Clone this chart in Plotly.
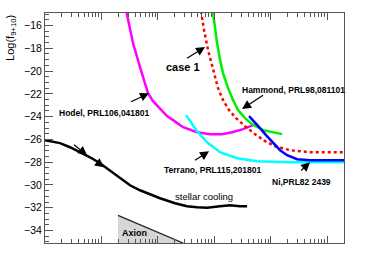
import plotly.graph_objects as go

# x values are given as log10(x); the x axis itself is logarithmic (no labels in the original)
hodel_xlog = [0.418, 0.560, 0.684, 0.826, 0.915, 1.039, 1.163, 1.270, 1.447, 1.695, 1.926, 2.138, 2.316, 2.511, 2.688]
hodel_y = [-14.20, -17.54, -19.65, -21.94, -22.64, -23.26, -23.96, -24.31, -24.93, -25.37, -25.54, -25.54, -25.37, -25.10, -24.75]

hammond_xlog = [1.961, 1.996, 2.050, 2.103, 2.156, 2.245, 2.333, 2.422, 2.546, 2.670, 2.865, 3.202]
hammond_y = [-14.20, -15.52, -17.54, -19.03, -20.18, -21.50, -22.55, -23.43, -24.13, -24.66, -25.19, -25.54]

case1_xlog = [1.748, 1.819, 1.890, 1.979, 2.067, 2.156, 2.262, 2.387, 2.546, 2.723, 2.901, 3.078, 3.344, 3.699, 4.301]
case1_y = [-14.20, -16.40, -18.15, -19.91, -21.50, -22.55, -23.43, -24.13, -24.84, -25.54, -26.16, -26.60, -26.95, -27.13, -27.13]

terrano_xlog = [1.500, 1.589, 1.695, 1.872, 2.103, 2.404, 2.759, 3.344, 4.301]
terrano_y = [-23.87, -24.57, -25.28, -26.25, -27.13, -27.65, -27.92, -28.01, -28.01]

ni_xlog = [2.617, 2.723, 2.812, 2.918, 3.043, 3.167, 3.291, 3.468, 3.699, 4.301]
ni_y = [-23.96, -24.49, -25.01, -25.63, -26.33, -26.95, -27.39, -27.74, -27.83, -27.83]

stellar_xlog = [-1.0, -0.734, -0.557, -0.379, -0.202, -0.025, 0.152, 0.330, 0.507, 0.684, 0.862, 1.039,
                1.305, 1.518, 1.695, 1.872, 2.103, 2.280, 2.457, 2.582]
stellar_y = [-26.07, -26.33, -26.69, -27.13, -27.57, -28.09, -28.71, -29.41, -30.03, -30.47, -30.82, -31.17,
             -31.61, -31.87, -31.96, -32.01, -31.87, -31.79, -31.87, -31.87]

axion_xlog = [0.294, 1.447, 0.294, 0.294]
axion_y = [-32.67, -35.1, -35.1, -32.67]

y_range = [-35.1, -14.9]
x_range_log = [-1.0, 4.3]

FONT = "Liberation Sans"


def xs(v):
    return [10 ** a for a in v]


fig = go.Figure()

# Axion region
fig.add_trace(go.Scatter(x=xs(axion_xlog), y=axion_y, mode="lines", fill="toself",
                         fillcolor="#d6d6d6", line=dict(color="rgba(0,0,0,0)", width=0),
                         hoverinfo="skip", showlegend=False))
fig.add_trace(go.Scatter(x=xs(axion_xlog[:2]), y=axion_y[:2], mode="lines",
                         line=dict(color="#222", width=1.3), showlegend=False))

fig.add_trace(go.Scatter(x=xs(stellar_xlog), y=stellar_y, mode="lines",
                         line=dict(color="black", width=2.5), showlegend=False))
fig.add_trace(go.Scatter(x=xs(hodel_xlog), y=hodel_y, mode="lines",
                         line=dict(color="#ff00ff", width=2.5), showlegend=False))
fig.add_trace(go.Scatter(x=xs(terrano_xlog), y=terrano_y, mode="lines",
                         line=dict(color="#00ffff", width=2.5), showlegend=False))
fig.add_trace(go.Scatter(x=xs(hammond_xlog), y=hammond_y, mode="lines",
                         line=dict(color="#00ee00", width=2.5), showlegend=False))
fig.add_trace(go.Scatter(x=xs(case1_xlog), y=case1_y, mode="lines",
                         line=dict(color="#ff0000", width=2.5, dash="3px,3px"), showlegend=False))
fig.add_trace(go.Scatter(x=xs(ni_xlog), y=ni_y, mode="lines",
                         line=dict(color="#0000ff", width=2.5), showlegend=False))

labels = [
    ("case 1", 1.447, -19.65, 11, True),
    ("Hodel, PRL106,041801", 0.055, -23.67, 8.5, True),
    ("Hammond, PRL98,081101", 3.397, -21.67, 8.5, True),
    ("Terrano, PRL115,201801", 1.970, -28.71, 8.5, True),
    ("Ni,PRL82 2439", 3.539, -29.76, 8.5, True),
    ("stellar cooling", 1.819, -31.0, 9.5, False),
    ("Axion", 0.587, -34.25, 9, True),
]
for txt, lx, ly, sz, bold in labels:
    fig.add_annotation(x=lx, y=ly, xref="x", yref="y", text=f"<b>{txt}</b>" if bold else txt,
                       showarrow=False, xanchor="center", yanchor="middle",
                       font=dict(family=FONT, size=sz, color="black"))

arrows = [
    # head x, head y, tail x, tail y
    (1.837, -17.89, 1.465, -19.03),
    (0.844, -21.94, 0.472, -22.82),
    (2.493, -23.34, 2.918, -21.94),
    (1.908, -27.04, 1.606, -28.0),
    (3.699, -28.01, 3.486, -28.97),
    (-0.255, -27.39, -0.539, -26.25),
    (0.046, -28.44, -0.096, -27.92),
]
for hx, hy, tx, ty in arrows:
    fig.add_annotation(x=hx, y=hy, ax=tx, ay=ty, xref="x", yref="y", axref="x", ayref="y",
                       text=" ", showarrow=True, arrowhead=2, arrowsize=1.5, arrowwidth=1.2,
                       arrowcolor="black", standoff=0, startstandoff=0)

fig.add_annotation(x=-0.114, y=1.0, xref="paper", yref="paper", text="Log(f<sub>9+10</sub>)",
                   textangle=-90, showarrow=False, xanchor="center", yanchor="top",
                   font=dict(family=FONT, size=11, color="black"))

fig.update_layout(
    width=374, height=255,
    margin=dict(l=45, r=30, t=13, b=12, autoexpand=False),
    paper_bgcolor="white", plot_bgcolor="white",
    font=dict(family=FONT, color="black"),
    showlegend=False,
)
fig.update_xaxes(type="log", range=x_range_log, showticklabels=False, showgrid=False, zeroline=False,
                 automargin=False,
                 showline=True, linecolor="#555", linewidth=1, mirror="ticks",
                 ticks="inside", ticklen=7, tickcolor="#555", dtick=1,
                 minor=dict(ticks="inside", ticklen=4, tickcolor="#555", dtick="D1"))
fig.update_yaxes(range=y_range, dtick=2, tick0=0, showgrid=False, zeroline=False,
                 automargin=False,
                 showline=True, linecolor="#555", linewidth=1, mirror=True,
                 ticks="inside", ticklen=8, tickcolor="#555",
                 tickfont=dict(family=FONT, size=10.5, color="black"),
                 minor=dict(ticks="inside", ticklen=4, tickcolor="#555", dtick=0.5))

fig.write_html("out.html", config={"displayModeBar": False, "staticPlot": True},
               post_script="document.body.style.margin='0px';")
